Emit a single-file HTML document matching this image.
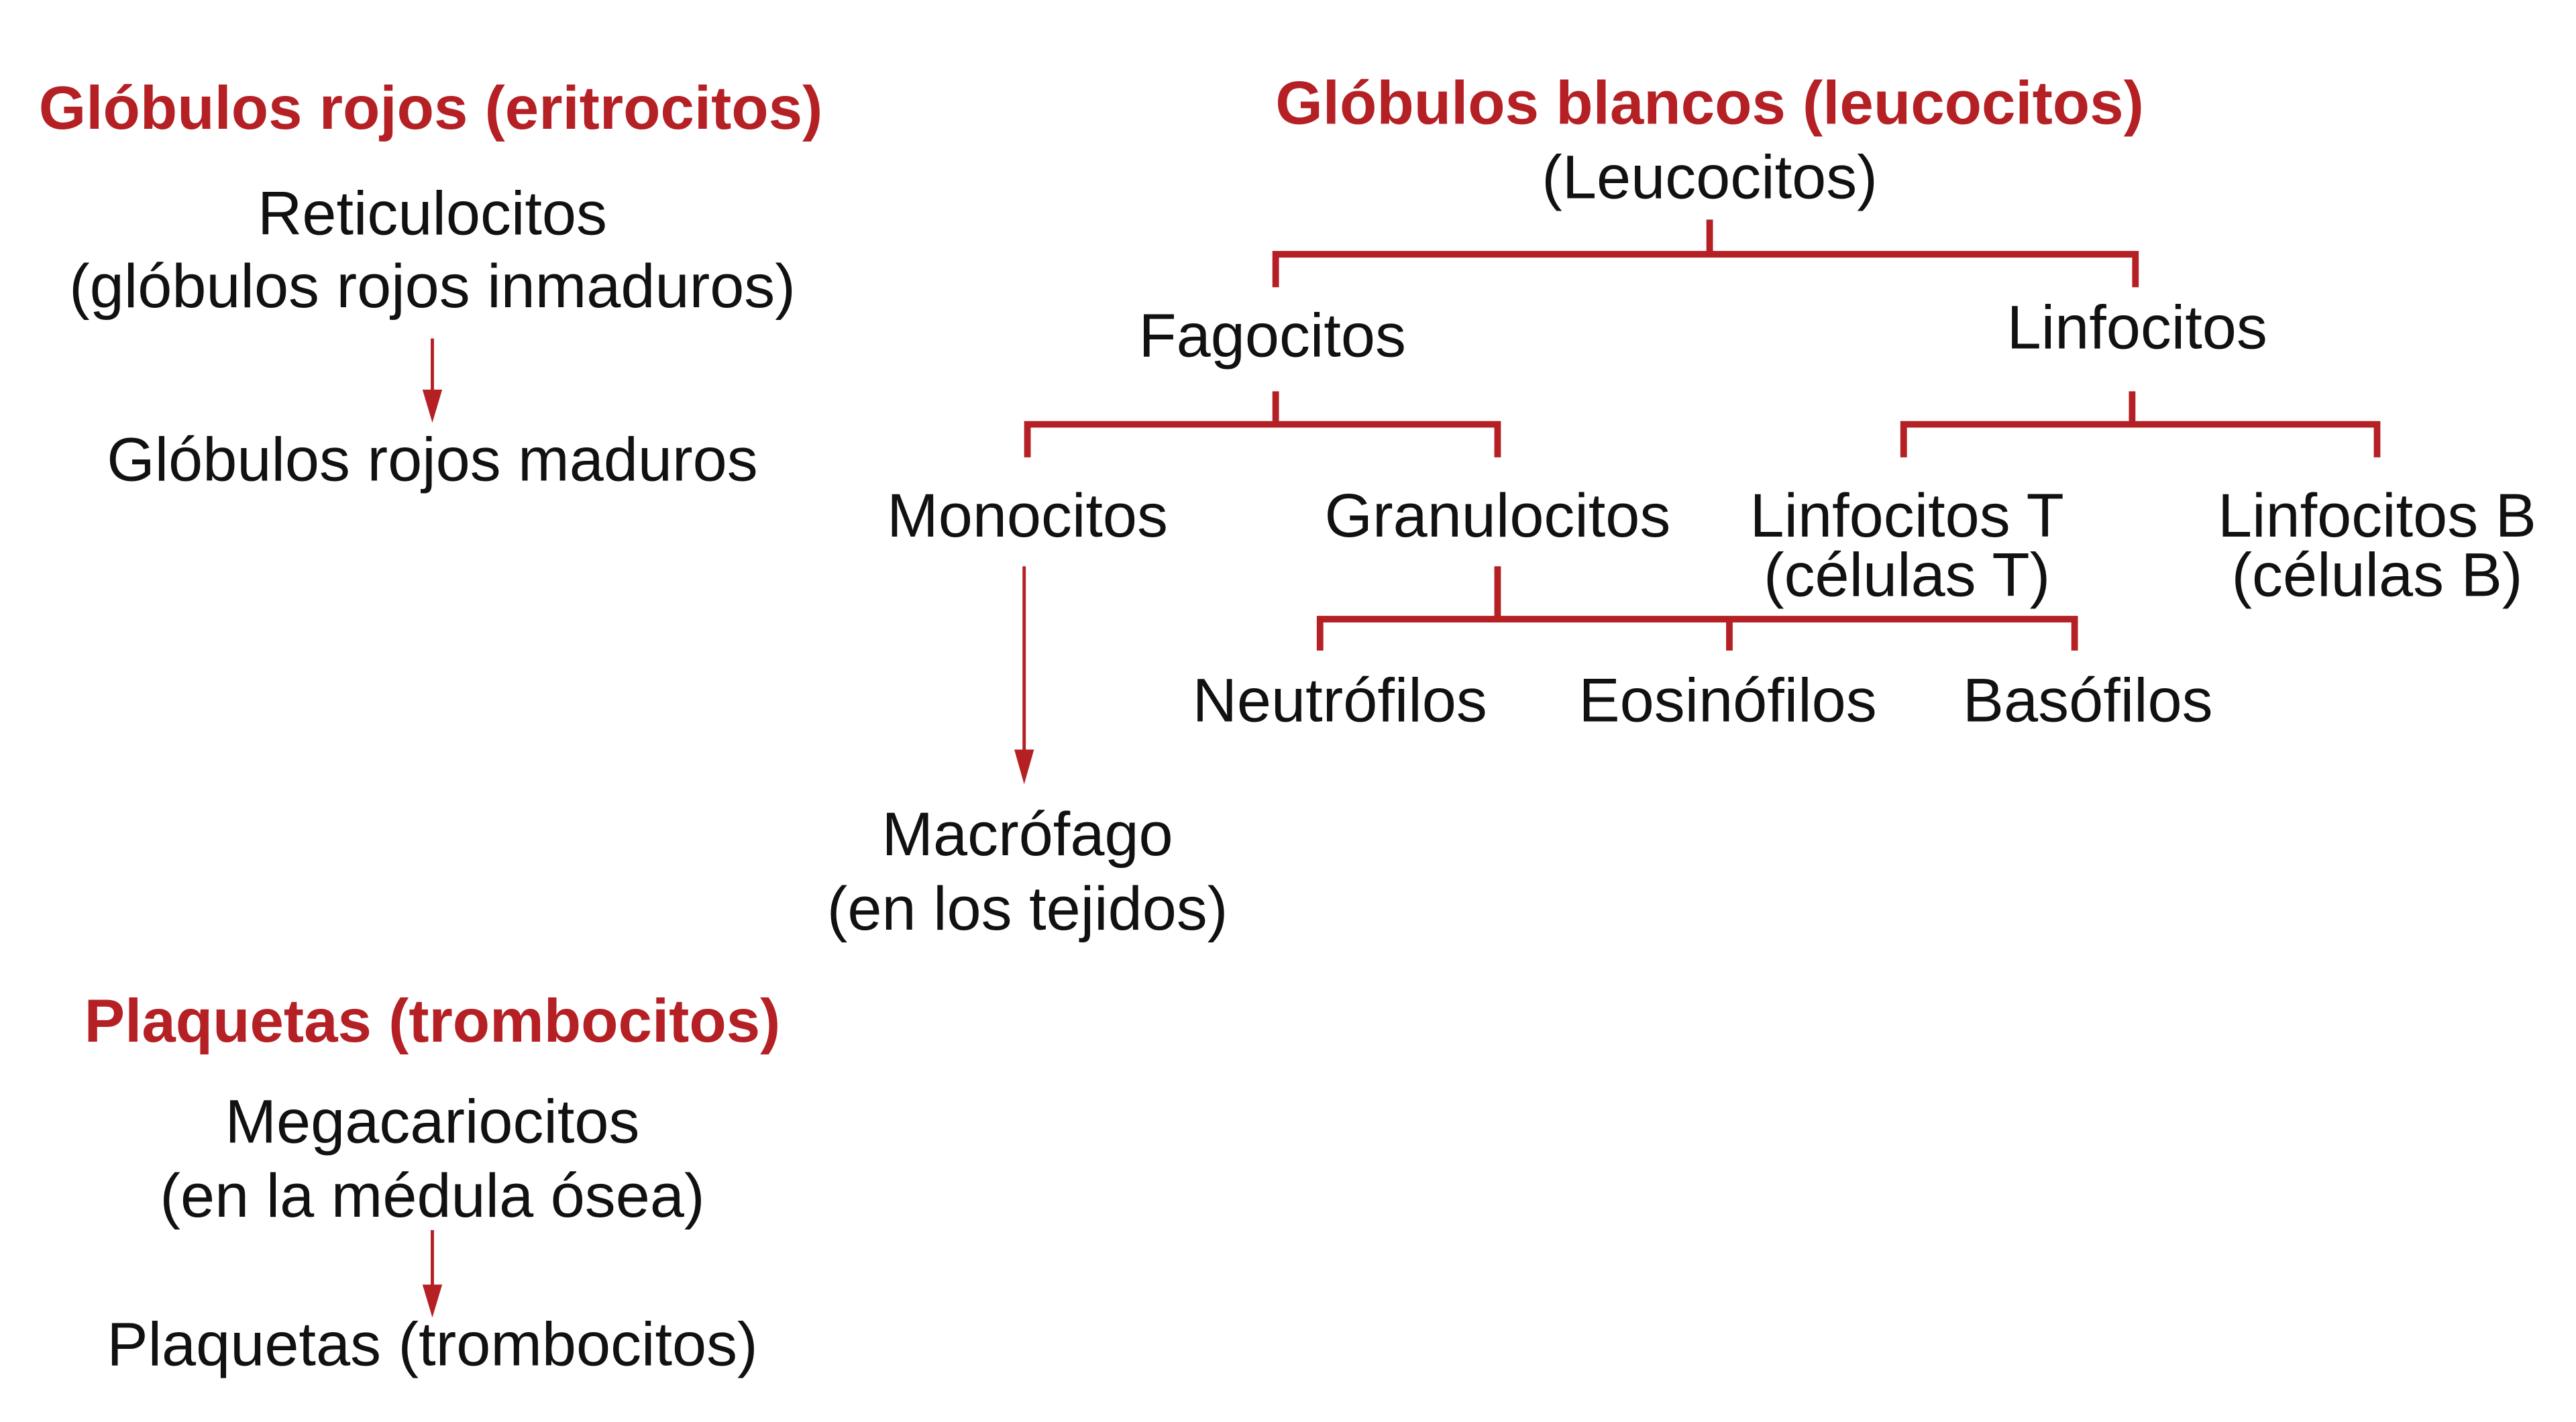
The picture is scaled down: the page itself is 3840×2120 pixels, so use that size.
<!DOCTYPE html>
<html><head><meta charset="utf-8"><style>
html,body{margin:0;padding:0;background:#fff;}
svg{display:block;}
text{font-family:"Liberation Sans",Arial,sans-serif;text-anchor:middle;fill:#111;font-size:37.5px;}
.t{fill:#b52025;font-weight:bold;font-size:37px;}
</style></head><body>
<svg width="3840" height="2120" viewBox="0 0 1567 861.25" preserveAspectRatio="none" xmlns="http://www.w3.org/2000/svg">
<rect width="1570" height="862" fill="#fff"/>
<g stroke="#b52025" fill="none" stroke-width="4">
<path d="M1040 133V154M776 174V154H1299V174"/>
<path d="M776 237V257M625 277V257H911V277"/>
<path d="M1297 237V257M1158 277V257H1446V277"/>
<path d="M911 343V375M803 394V375H1262V394M1052 375V394"/>
</g>
<g stroke="#b52025" stroke-width="2">
<line x1="263" y1="205" x2="263" y2="240"/>
<line x1="623" y1="343" x2="623" y2="458"/>
<line x1="263" y1="745" x2="263" y2="782"/>
</g>
<g fill="#b52025">
<polygon points="257,236 269,236 263,256"/>
<polygon points="617,454 629,454 623,475"/>
<polygon points="257,778 269,778 263,798"/>
</g>
<text class="t" x="262" y="78">Glóbulos rojos (eritrocitos)</text>
<text x="263" y="142">Reticulocitos</text>
<text x="263" y="186">(glóbulos rojos inmaduros)</text>
<text x="263" y="291">Glóbulos rojos maduros</text>
<text class="t" x="1040" y="75">Glóbulos blancos (leucocitos)</text>
<text x="1040" y="120">(Leucocitos)</text>
<text x="774" y="216">Fagocitos</text>
<text x="1300" y="211">Linfocitos</text>
<text x="625" y="325">Monocitos</text>
<text x="911" y="325">Granulocitos</text>
<text x="1160" y="325">Linfocitos T</text>
<text x="1160" y="361">(células T)</text>
<text x="1446" y="325">Linfocitos B</text>
<text x="1446" y="361">(células B)</text>
<text x="815" y="437">Neutrófilos</text>
<text x="1051" y="437">Eosinófilos</text>
<text x="1270" y="437">Basófilos</text>
<text x="625" y="518">Macrófago</text>
<text x="625" y="563">(en los tejidos)</text>
<text class="t" x="263" y="631">Plaquetas (trombocitos)</text>
<text x="263" y="692">Megacariocitos</text>
<text x="263" y="737">(en la médula ósea)</text>
<text x="263" y="827">Plaquetas (trombocitos)</text>
</svg>
</body></html>
